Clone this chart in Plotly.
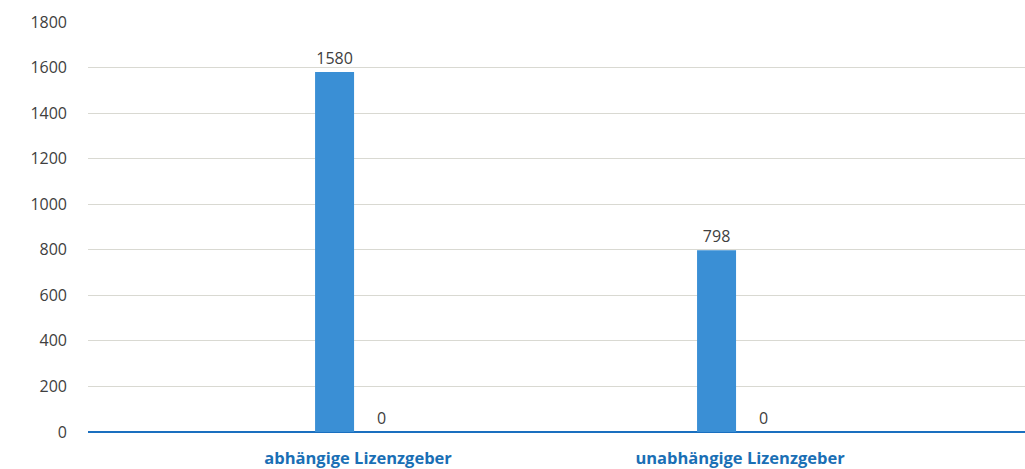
import plotly.graph_objects as go

categories = ["abhängige Lizenzgeber", "unabhängige Lizenzgeber"]
series_a = [1580, 798]
series_b = [0, 0]
y_ticks = [0, 200, 400, 600, 800, 1000, 1200, 1400, 1600, 1800]

fig = go.Figure()
fig.add_trace(go.Bar(x=categories, y=series_a,
                     text=series_a, textposition="outside",
                     marker=dict(color="#3a8fd5", line=dict(width=0)),
                     textfont=dict(color="#404040", size=16),
                     cliponaxis=False,
                     name="A"))
fig.add_trace(go.Bar(x=categories, y=series_b,
                     text=series_b, textposition="outside",
                     marker=dict(color="#3a8fd5", line=dict(width=0)),
                     textfont=dict(color="#404040", size=16),
                     cliponaxis=False,
                     name="B"))

fig.update_layout(
    width=1025,
    height=469,
    margin=dict(l=88, r=0, t=22, b=37),
    paper_bgcolor="white",
    plot_bgcolor="white",
    showlegend=False,
    barmode="group",
    bargap=0.754,
    bargroupgap=0.17,
    font=dict(family="Open Sans, Noto Sans, sans-serif", color="#404040", size=16),
    xaxis=dict(
        range=[-0.707, 1.746],
        automargin=False,
        showgrid=False,
        showline=False,
        ticks="",
        ticklabelstandoff=14,
        tickfont=dict(color="#1a6fb5", size=16.5, weight="bold"),
    ),
    yaxis=dict(
        range=[0, 1800],
        automargin=False,
        tickvals=y_ticks,
        showgrid=True,
        gridcolor="#d9d9d2",
        gridwidth=1,
        zeroline=True,
        zerolinecolor="#1a6fbf",
        zerolinewidth=2,
        ticks="",
        ticklabelstandoff=20,
        tickfont=dict(color="#404040", size=16),
    ),
)

# drop the default page margin so the figure fills the window
fig.write_html("out.html",
               config={"displayModeBar": False},
               post_script="document.body.style.margin = '0';")
